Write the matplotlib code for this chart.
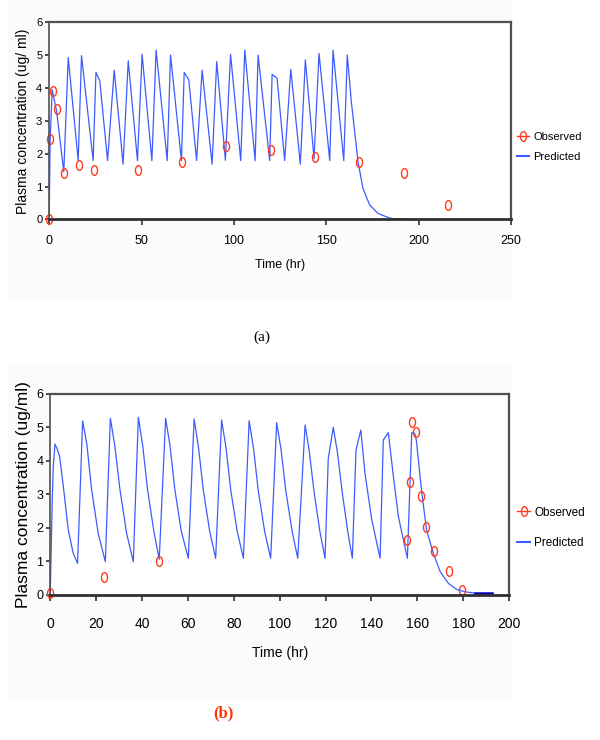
import matplotlib
matplotlib.use("Agg")
import matplotlib.pyplot as plt
from matplotlib.lines import Line2D
from matplotlib.path import Path
from matplotlib.transforms import Affine2D
from matplotlib.patches import Rectangle

# ---- panel (a) : observed points
obs_a_t = [0, 0.5, 2, 4, 8, 16, 24, 48, 72, 96, 120, 144, 168, 192, 216]
obs_a_c = [0, 2.45, 3.9, 3.35, 1.4, 1.65, 1.5, 1.5, 1.75, 2.25, 2.1, 1.9, 1.75, 1.4, 0.45]

# ---- panel (a) : predicted curve
pred_a_t = [0, 0.5, 1.6, 4, 7.9, 10.3, 15.7, 17.5, 23.8, 25.3, 27.4, 31.6, 35.2, 40.0,
            42.8, 47.8, 50.3, 55.6, 57.9, 63.9, 65.7, 71.6, 73.1, 75.6, 79.8, 82.8,
            88.2, 90.7, 95.4, 98.2, 103.7, 105.9, 111.5, 113.1, 119.4, 120.7, 123.4,
            127.5, 130.8, 136.0, 138.7, 143.4, 146.1, 151.9, 153.7, 159.5, 161.4,
            163.6, 167.2, 169.9, 173.5, 178.0, 183.4, 185.3]
pred_a_c = [0, 2.4, 3.95, 3.3, 1.45, 4.93, 1.8, 4.99, 1.79, 4.48, 4.22, 1.79, 4.55, 1.68,
            4.83, 1.79, 5.03, 1.79, 5.16, 1.79, 5.01, 1.79, 4.48, 4.25, 1.79, 4.55,
            1.68, 4.81, 1.8, 5.03, 1.79, 5.16, 1.79, 5.01, 1.79, 4.42, 4.30,
            1.79, 4.57, 1.68, 4.86, 1.85, 5.06, 1.79, 5.16, 1.79, 5.01,
            3.59, 1.76, 0.94, 0.44, 0.18, 0.06, 0.03]
tail_a_t = [185.3, 192.1]
tail_a_c = [0.02, 0.02]

# ---- panel (b) : observed points
obs_b_t = [0, 23.6, 47.5, 155.7, 156.9, 157.6, 159.5, 161.8, 163.7, 167.5, 173.7, 179.4]
obs_b_c = [0.04, 0.54, 1.01, 1.64, 3.36, 5.17, 4.87, 2.95, 2.03, 1.32, 0.71, 0.14]

# ---- panel (b) : predicted curve
pred_b_t = [0, 0.9, 1.3, 2.05, 3.2, 4.1, 5.7, 7.85, 10.0, 11.9,
            14.1, 15.9, 18.05, 20.9, 24.0,
            26.2, 28.2, 30.4, 33.3, 36.2,
            38.4, 40.3, 42.4, 45.2, 47.5,
            50.3, 52.2, 54.3, 57.1, 60.2,
            62.7, 64.6, 66.7, 69.5, 72.1,
            74.7, 76.6, 78.7, 81.5, 84.2,
            86.7, 88.6, 90.7, 93.5, 96.1,
            98.7, 100.6, 102.7, 105.5, 107.9,
            111.1, 112.9, 115.0, 117.6, 119.8,
            121.2, 123.4, 125.2, 127.3, 129.8, 131.7,
            133.3, 135.4, 137.2, 140.2, 143.8,
            145.2, 147.4, 149.6, 151.8, 155.7,
            156.9, 157.6, 158.9, 159.6, 162.0, 164.1, 167.0, 170.0, 173.6,
            177.2, 180.9, 185.2]
pred_b_c = [0.05, 2.93, 3.83, 4.5, 4.32, 4.12, 3.23, 1.93, 1.24, 0.94,
            5.19, 4.52, 3.13, 1.83, 0.99,
            5.27, 4.42, 3.13, 1.83, 0.99,
            5.30, 4.45, 3.15, 1.88, 1.06,
            5.27, 4.45, 3.15, 1.9, 1.09,
            5.25, 4.42, 3.14, 1.9, 1.09,
            5.22, 4.4, 3.12, 1.9, 1.09,
            5.20, 4.38, 3.1, 1.88, 1.09,
            5.14, 4.35, 3.1, 1.88, 1.09,
            5.07, 4.3, 3.08, 1.87, 1.09,
            4.07, 5.00, 4.25, 3.05, 1.85, 1.09,
            4.32, 4.92, 3.63, 2.23, 1.09,
            4.62, 4.84, 3.53, 2.33, 1.09,
            3.43, 4.84, 4.82, 4.62, 3.03, 1.93, 1.24, 0.69, 0.34,
            0.16, 0.09, 0.05]
tail_b_t = [185.2, 192.5]
tail_b_c = [0.04, 0.04]

line_col = "#3d5cff"
tail_col = "#0000b0"
obs_col = "#ff3b1f"
sans = "Liberation Sans"
ell = Path.unit_circle().transformed(Affine2D().scale(0.62, 1.0))

fig = plt.figure(figsize=(6, 7.4), dpi=100)
fig.patches.append(Rectangle((0.012, 0.595), 0.84, 0.405, transform=fig.transFigure,
                             facecolor="#fbfbfb", edgecolor="none", zorder=-5))
fig.patches.append(Rectangle((0.012, 0.057), 0.84, 0.45, transform=fig.transFigure,
                             facecolor="#fbfbfb", edgecolor="none", zorder=-5))


def style(ax, xmax, xstep, tsize, xpad):
    ax.set_facecolor("white")
    ax.set_xlim(0, xmax)
    ax.set_ylim(0, 6)
    ax.set_xticks(range(0, xmax + 1, xstep))
    ax.set_yticks(range(0, 7))
    for s in ["top", "right", "left"]:
        ax.spines[s].set_color("#505050")
        ax.spines[s].set_linewidth(1.6)
    ax.spines["left"].set_linewidth(1.2)
    ax.spines["bottom"].set_color("#303030")
    ax.spines["bottom"].set_linewidth(2.0)
    ax.tick_params(axis="x", direction="out", length=4, width=1.2, pad=xpad,
                   labelsize=tsize, color="#303030")
    ax.tick_params(axis="y", direction="out", length=3, width=1.2, pad=2,
                   labelsize=tsize - 1, color="#303030")
    for lab in ax.get_xticklabels() + ax.get_yticklabels():
        lab.set_family(sans)


def legend(ax, y, size, spacing):
    h = [Line2D([], [], color=obs_col, lw=1, marker=ell, ms=7, mfc="none", mec=obs_col),
         Line2D([], [], color=line_col, lw=1.5)]
    leg = ax.legend(h, ["Observed", "Predicted"], loc="center left",
                    bbox_to_anchor=(0.862, y), bbox_transform=fig.transFigure,
                    frameon=False, handlelength=1.1, handletextpad=0.35,
                    labelspacing=spacing, borderaxespad=0, borderpad=0,
                    prop={"family": sans, "size": size})
    return leg


# ---- panel (a)
ax1 = fig.add_axes([0.082, 0.7036, 0.7695, 0.266])
ax1.plot(pred_a_t, pred_a_c, color=line_col, lw=0.9)
ax1.plot(tail_a_t, tail_a_c, color=tail_col, lw=1.8)
ax1.plot(obs_a_t, obs_a_c, ls="none", marker=ell, ms=7, mfc="none", mec=obs_col,
         mew=1.0, clip_on=False)
style(ax1, 250, 50, 9, 7)
ax1.set_xlabel("Time (hr)", family=sans, fontsize=9, labelpad=9)
ax1.set_ylabel("Plasma concentration (ug/ ml)", family=sans, fontsize=10, labelpad=4)
legend(ax1, 0.802, 8, 0.9)
fig.text(0.437, 1 - 337 / 740, "(a)", family="Liberation Serif", fontsize=11,
         ha="center", va="center")

# ---- panel (b)
ax2 = fig.add_axes([0.0838, 0.1962, 0.7645, 0.2716])
ax2.plot(pred_b_t, pred_b_c, color=line_col, lw=0.9)
ax2.plot(tail_b_t, tail_b_c, color=tail_col, lw=1.8)
ax2.plot(obs_b_t, obs_b_c, ls="none", marker=ell, ms=7, mfc="none", mec=obs_col,
         mew=1.0, clip_on=False)
style(ax2, 200, 20, 10, 12)
ax2.set_xlabel("Time (hr)", family=sans, fontsize=10, labelpad=11)
ax2.set_ylabel("Plasma concentration (ug/ml)", family=sans, fontsize=12.5, labelpad=4)
legend(ax2, 0.2865, 8.5, 1.6)
fig.text(0.373, 1 - 713 / 740, "(b)", family="Liberation Serif", fontsize=12,
         fontweight="bold", color="#ff3300", ha="center", va="center")

fig.savefig("out.png", dpi=100)
